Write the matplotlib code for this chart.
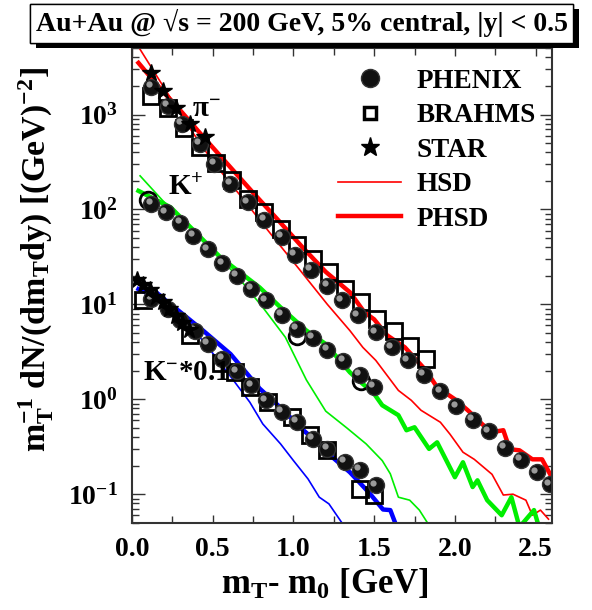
import matplotlib
matplotlib.use('Agg')
import matplotlib.pyplot as plt
import matplotlib.patheffects as pe
from matplotlib.transforms import offset_copy
from matplotlib.ticker import LogLocator, MultipleLocator, NullFormatter

plt.rcParams['font.family'] = ['Liberation Serif', 'DejaVu Serif']
plt.rcParams['font.weight'] = 'bold'
plt.rcParams['axes.labelweight'] = 'bold'
plt.rcParams['mathtext.fontset'] = 'custom'
plt.rcParams['mathtext.rm'] = 'Liberation Serif:bold'
plt.rcParams['mathtext.it'] = 'Liberation Serif:bold'
plt.rcParams['mathtext.bf'] = 'Liberation Serif:bold'
plt.rcParams['mathtext.default'] = 'rm'

# pi-
pi_phenix_x = [0.12, 0.22, 0.31, 0.42, 0.51, 0.61, 0.72, 0.82, 0.93, 1.01, 1.11, 1.21, 1.30,
               1.40, 1.51, 1.61, 1.71, 1.81, 1.91, 2.01, 2.11, 2.21, 2.31, 2.41, 2.51, 2.59]
pi_phenix_y = [1950, 1235, 790, 486, 300, 185, 119, 77, 51, 33, 23, 15.8, 11.0,
               7.66, 5.07, 3.52, 2.57, 1.80, 1.21, 0.843, 0.601, 0.46, 0.305, 0.228, 0.17, 0.127]
pi_brahms_x = [0.12, 0.22, 0.32, 0.42, 0.52, 0.62, 0.72, 0.82, 0.92, 1.02, 1.12, 1.22, 1.32,
               1.42, 1.52, 1.62, 1.72, 1.82]
pi_brahms_y = [1570, 1160, 730, 450, 312, 205, 130, 93, 62, 42, 30, 21.7, 14.5,
               10.5, 7.0, 5.2, 3.6, 2.65]
pi_star_x = [0.12, 0.19, 0.27, 0.36, 0.45]
pi_star_y = [2770, 1750, 1185, 790, 573]
pi_phsd_x = [0.04, 0.15, 0.3, 0.45, 0.6, 0.75, 0.9, 1.05, 1.2, 1.35, 1.44, 1.50, 1.58, 1.69,
             1.82, 1.89, 2.0, 2.08, 2.17, 2.23, 2.30, 2.34, 2.40, 2.48, 2.54, 2.6]
pi_phsd_y = [3500, 2100, 1100, 560, 290, 150, 79, 41, 22, 13.4, 8.24, 6.95, 4.72, 3.53,
             2.02, 1.34, 1.0, 0.766, 0.545, 0.45, 0.472, 0.298, 0.29, 0.233, 0.233, 0.151]
pi_hsd_x = [0.05, 0.2, 0.35, 0.5, 0.68, 0.86, 1.04, 1.21, 1.35, 1.43, 1.51, 1.65, 1.73, 1.79,
            1.91, 1.97, 2.05, 2.12, 2.23, 2.30, 2.36, 2.44, 2.48, 2.53, 2.58]
pi_hsd_y = [4860, 1900, 750, 320, 134, 55, 23, 10, 5.28, 3.52, 2.57, 1.24, 0.975, 0.766,
            0.573, 0.428, 0.277, 0.233, 0.162, 0.098, 0.10, 0.0865, 0.06, 0.068, 0.0546]

# K+
kp_phenix_x = [0.12, 0.21, 0.30, 0.38, 0.47, 0.56, 0.65, 0.74, 0.83, 0.93, 1.02, 1.12, 1.21,
               1.31, 1.41, 1.50]
kp_phenix_y = [114, 93, 72, 53, 38, 27, 20, 14.5, 11, 7.7, 5.5, 4.4, 3.3, 2.55, 1.8, 1.35]
kp_open_x = [0.10, 1.02, 1.42]
kp_open_y = [125, 4.6, 1.55]
kp_phsd_x = [0.04, 0.24, 0.55, 0.79, 0.92, 1.08, 1.2, 1.35, 1.43, 1.50, 1.55, 1.65, 1.70, 1.75,
             1.84, 1.89, 2.0, 2.05, 2.11, 2.14, 2.20, 2.29, 2.35, 2.40, 2.49, 2.53]
kp_phsd_y = [157, 105, 31, 15.1, 9.3, 5.3, 3.82, 1.92, 1.45, 1.14, 0.865, 0.68, 0.472, 0.507,
             0.30, 0.352, 0.151, 0.217, 0.119, 0.14, 0.0865, 0.06, 0.093, 0.045, 0.068, 0.04]
kp_hsd_x = [0.05, 0.19, 0.34, 0.47, 0.65, 0.81, 0.95, 1.08, 1.2, 1.33, 1.45, 1.55, 1.60, 1.65,
            1.72, 1.78, 1.83]
kp_hsd_y = [226, 124, 72, 41, 20, 9.3, 4.5, 1.6, 0.75, 0.5, 0.339, 0.226, 0.164, 0.093,
            0.0865, 0.068, 0.05]

# K- (x0.1)
km_phenix_x = [0.12, 0.22, 0.30, 0.39, 0.47, 0.56, 0.65, 0.74, 0.83, 0.93, 1.02, 1.12, 1.21,
               1.32, 1.41, 1.51]
km_phenix_y = [11.4, 8.9, 6.8, 5.3, 3.8, 2.65, 1.97, 1.40, 0.975, 0.73, 0.573, 0.382, 0.30,
               0.217, 0.179, 0.124]
km_brahms_x = [0.07, 0.36, 0.55, 0.64, 0.73, 0.84, 0.99, 1.10, 1.21, 1.41, 1.50]
km_brahms_y = [11, 4.7, 2.4, 1.92, 1.34, 0.93, 0.645, 0.417, 0.29, 0.113, 0.098]
km_star_x = [0.03, 0.07, 0.11, 0.15, 0.19, 0.23, 0.27, 0.31, 0.35]
km_star_y = [18, 16, 14, 12, 10.5, 9, 7.6, 6.4, 5.4]
km_phsd_x = [0.04, 0.24, 0.44, 0.61, 0.79, 0.94, 1.04, 1.16, 1.23, 1.35, 1.47, 1.555, 1.60, 1.63]
km_phsd_y = [14.5, 10, 5.3, 3.0, 1.3, 0.76, 0.507, 0.339, 0.255, 0.17, 0.103, 0.069, 0.068, 0.05]
km_hsd_x = [0.04, 0.15, 0.25, 0.38, 0.52, 0.63, 0.73, 0.81, 0.92, 1.0, 1.09, 1.16, 1.22, 1.30]
km_hsd_y = [19.2, 14, 10, 5.5, 2.77, 1.57, 0.93, 0.55, 0.339, 0.226, 0.145, 0.093, 0.079, 0.05]

fig = plt.figure(figsize=(5.92, 6.10), dpi=100)
ax = fig.add_axes([0.223, 0.143, 0.709, 0.778])

thin = 1.2
thick = 3.2
ax.plot(pi_hsd_x, pi_hsd_y, color='#ff0000', lw=thin, label='HSD')
ax.plot(pi_phsd_x, pi_phsd_y, color='#ff0000', lw=thick, label='PHSD')
ax.plot(kp_hsd_x, kp_hsd_y, color='#00ee00', lw=thin)
ax.plot(kp_phsd_x, kp_phsd_y, color='#00ee00', lw=thick)
ax.plot(km_hsd_x, km_hsd_y, color='#0000ff', lw=thin)
ax.plot(km_phsd_x, km_phsd_y, color='#0000ff', lw=thick)

sq = dict(ls='none', marker='s', ms=12, mfc='none', mec='black', mew=2.0)
ax.plot(pi_brahms_x, pi_brahms_y, **sq)
ax.plot(km_brahms_x, km_brahms_y, **sq)
ax.plot(kp_open_x, kp_open_y, ls='none', marker='o', ms=12, mfc='none', mec='black', mew=2.0)

hl = offset_copy(ax.transData, fig=fig, x=-2.0, y=2.0, units='points')
for xs, ys in [(pi_phenix_x, pi_phenix_y), (kp_phenix_x, kp_phenix_y), (km_phenix_x, km_phenix_y)]:
    ax.plot(xs, ys, ls='none', marker='o', ms=11.5, mfc='#111111', mec='#333333', mew=1.0)
    ax.plot(xs, ys, ls='none', marker='o', ms=4.5, mfc='#9a9a9a', mec='none', transform=hl)

ax.plot(pi_star_x, pi_star_y, ls='none', marker='*', ms=13, color='black')
ax.plot(km_star_x, km_star_y, ls='none', marker='*', ms=13, color='black')

# legend handles
h_ph, = ax.plot([], [], ls='none', marker='o', ms=13, mfc='#111111', mec='#333333')
h_br, = ax.plot([], [], ls='none', marker='s', ms=9, mfc='none', mec='black', mew=2.5)
h_st, = ax.plot([], [], ls='none', marker='*', ms=14, color='black')
h_hsd, = ax.plot([], [], color='#ff0000', lw=thin)
h_phsd, = ax.plot([], [], color='#ff0000', lw=thick)
ax.legend([h_ph, h_br, h_st, h_hsd, h_phsd], ['PHENIX', 'BRAHMS', 'STAR', 'HSD', 'PHSD'],
          loc='upper left', bbox_to_anchor=(0.49, 0.957), frameon=False, fontsize=19.5,
          handlelength=2.35, handletextpad=0.55, labelspacing=0.35, borderpad=0, borderaxespad=0)

ax.text(0.143, 0.855, r'$\pi^{-}$', transform=ax.transAxes, fontsize=21)
ax.text(0.086, 0.69, r'$K^{+}$', transform=ax.transAxes, fontsize=21)
ax.text(0.026, 0.30, r'$K^{-}$*0.1', transform=ax.transAxes, fontsize=21)

ax.set_yscale('log')
ax.set_xlim(0, 2.6)
ax.set_ylim(0.05, 5000)
ax.xaxis.set_major_locator(MultipleLocator(0.5))
ax.xaxis.set_minor_locator(MultipleLocator(0.25))
ax.xaxis.set_major_formatter(matplotlib.ticker.FormatStrFormatter('%.1f'))
ax.yaxis.set_major_locator(LogLocator(base=10, numticks=10))
ax.yaxis.set_minor_locator(LogLocator(base=10, subs=range(2, 10), numticks=10))
ax.yaxis.set_minor_formatter(NullFormatter())
ax.tick_params(which='both', direction='in', top=True, right=True, labelsize=20, width=1.0,
               colors='#333333', labelcolor='black')
ax.tick_params(which='major', length=9, pad=10)
ax.tick_params(which='minor', length=5)
ax.tick_params(axis='x', which='major', length=6)
for s in ax.spines.values():
    s.set_linewidth(1.5)
    s.set_color('#333333')

ax.set_xlabel(r'$m_T$- $m_0$ [GeV]', fontsize=25)
ax.xaxis.set_label_coords(0.46, -0.095)
ax.set_ylabel(r'$m_T^{-1}$ dN/(d$m_T$dy) [(GeV)$^{-2}$]', fontsize=24.5)
ax.yaxis.set_label_coords(-0.18, 0.555)

t = fig.text(0.51, 0.962, 'Au+Au @ \u221as = 200 GeV, 5% central, |y| < 0.5', ha='center',
             va='center', fontsize=20,
             bbox=dict(boxstyle='square,pad=0.2', fc='white', ec='black', lw=1.0))
t.get_bbox_patch().set_path_effects([pe.withSimplePatchShadow(offset=(4, -4), shadow_rgbFace='black', alpha=1.0),
                                     pe.Normal()])

fig.savefig('out.png', dpi=100)
